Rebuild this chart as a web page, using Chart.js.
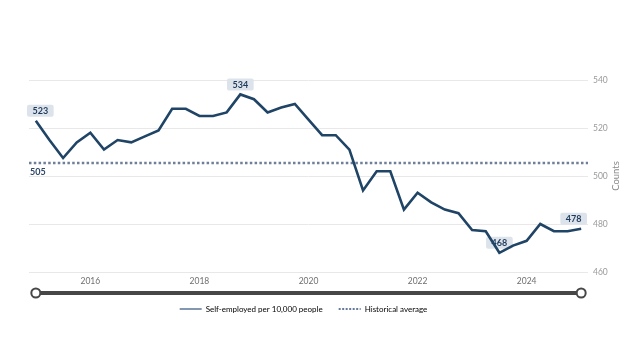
<!DOCTYPE html>
<html>
<head>
<meta charset="utf-8">
<script src="https://cdn.jsdelivr.net/npm/chart.js@4.4.1/dist/chart.umd.min.js"></script>
<style>
  html, body { margin: 0; padding: 0; background: #fff; }
</style>
</head>
<body>
<canvas id="myChart" width="636" height="362"></canvas>
<script>
// quarterly figures, 2015 Q1 to 2025 Q1
const quarters = [
  '2015 Q1', '2015 Q2', '2015 Q3', '2015 Q4',
  '2016 Q1', '2016 Q2', '2016 Q3', '2016 Q4',
  '2017 Q1', '2017 Q2', '2017 Q3', '2017 Q4',
  '2018 Q1', '2018 Q2', '2018 Q3', '2018 Q4',
  '2019 Q1', '2019 Q2', '2019 Q3', '2019 Q4',
  '2020 Q1', '2020 Q2', '2020 Q3', '2020 Q4',
  '2021 Q1', '2021 Q2', '2021 Q3', '2021 Q4',
  '2022 Q1', '2022 Q2', '2022 Q3', '2022 Q4',
  '2023 Q1', '2023 Q2', '2023 Q3', '2023 Q4',
  '2024 Q1', '2024 Q2', '2024 Q3', '2024 Q4',
  '2025 Q1'
]
const selfEmployed = [
  523, 515, 507.5, 514,
  518, 511, 515, 514,
  516.5, 519, 528, 528,
  525, 525, 526.5, 534,
  532, 526.5, 528.5, 530,
  523.5, 517, 517, 511,
  494, 502, 502, 486,
  493, 489, 486, 484.5,
  477.5, 477, 468, 471,
  473, 480, 477, 477,
  478
]
const historicalAverage = 505.4
const yearTicks = ['2016', '2018', '2020', '2022', '2024']
const yMin = 460
const yMax = 540
const yStep = 20

const navy = '#1f4466'
const avgColor = '#6f7f99'

// puntos con etiqueta: primero, ultimo, maximo y minimo
const labelIdx = [
  0,
  selfEmployed.length - 1,
  selfEmployed.indexOf(Math.max(...selfEmployed)),
  selfEmployed.indexOf(Math.min(...selfEmployed))
]

Chart.defaults.font.family = 'Lato'

const extras = {
  id: 'extras',
  afterLayout(chart) {
    // la leyenda va centrada un poco a la izquierda
    chart.legend.right = chart.chartArea.right - 10
  },
  beforeDatasetsDraw(chart) {
    const ctx = chart.ctx
    const area = chart.chartArea
    const y = chart.scales.y.getPixelForValue(historicalAverage)
    ctx.save()
    // linea del promedio historico
    ctx.strokeStyle = avgColor
    ctx.lineWidth = 2.5
    ctx.setLineDash([2.5, 2.3])
    ctx.beginPath()
    ctx.moveTo(area.left, y)
    ctx.lineTo(area.right, y)
    ctx.stroke()
    ctx.setLineDash([])
    ctx.fillStyle = '#2c4566'
    ctx.font = 'bold 9px Lato'
    ctx.textBaseline = 'middle'
    ctx.textAlign = 'left'
    ctx.fillText(String(Math.round(historicalAverage)), area.left + 1, y + 9)

    // etiquetas de valores (debajo de la linea)
    const meta = chart.getDatasetMeta(0)
    ctx.font = 'bold 9px Lato'
    labelIdx.forEach((i) => {
      const pt = meta.data[i]
      const txt = String(Math.round(selfEmployed[i]))
      const w = ctx.measureText(txt).width + 11
      const h = 12
      let cx = pt.x
      cx = Math.max(area.left - 2 + w / 2, Math.min(area.right - 1 - w / 2, cx))
      const bottom = pt.y - 4
      ctx.fillStyle = '#dde3eb'
      ctx.beginPath()
      ctx.roundRect(cx - w / 2, bottom - h, w, h, 2)
      ctx.fill()
      ctx.fillStyle = '#1f3b5c'
      ctx.textAlign = 'center'
      ctx.fillText(txt, cx, bottom - h / 2 + 0.5)
    })
    ctx.restore()
  },
  afterDraw(chart) {
    const ctx = chart.ctx
    const area = chart.chartArea
    const meta = chart.getDatasetMeta(0)
    const x0 = meta.data[0].x
    const x1 = meta.data[meta.data.length - 1].x
    const sy = area.bottom + 21
    ctx.save()
    // barra del navegador
    ctx.strokeStyle = '#474747'
    ctx.lineWidth = 4
    ctx.beginPath()
    ctx.moveTo(x0, sy)
    ctx.lineTo(x1, sy)
    ctx.stroke()
    ctx.lineWidth = 2
    ctx.fillStyle = '#fff'
    ;[x0, x1].forEach((x) => {
      ctx.beginPath()
      ctx.arc(x, sy, 4.5, 0, Math.PI * 2)
      ctx.fill()
      ctx.stroke()
    })
    // titulo del eje Y
    ctx.translate(616, (area.top + area.bottom) / 2)
    ctx.rotate(-Math.PI / 2)
    ctx.fillStyle = '#888'
    ctx.font = '9.5px Lato'
    ctx.textAlign = 'center'
    ctx.textBaseline = 'middle'
    ctx.fillText('Counts', 0, 0)
    ctx.restore()
  }
}

new Chart(document.getElementById('myChart'), {
  type: 'line',
  data: {
    labels: quarters,
    datasets: [{
      label: 'Self-employed per 10,000 people',
      data: selfEmployed,
      borderColor: navy,
      borderWidth: 2.6,
      pointRadius: 0,
      tension: 0
    }, {
      label: 'Historical average',
      data: [],
      borderColor: avgColor,
      borderDash: [2, 1.5]
    }]
  },
  options: {
    responsive: false,
    animation: false,
    devicePixelRatio: 1,
    layout: { padding: { top: 80, left: 29, right: 0, bottom: 39 } },
    scales: {
      x: {
        offset: true,
        grid: { display: false, drawTicks: false },
        border: { display: false },
        ticks: {
          autoSkip: false,
          maxRotation: 0,
          padding: 4,
          color: '#6f6f6f',
          font: { size: 8.5 },
          callback: function (v) {
            const lab = this.getLabelForValue(v)
            const year = lab.slice(0, 4)
            return lab.endsWith('Q1') && yearTicks.includes(year) ? year : null
          }
        },
        afterFit: (s) => { s.height = 17 }
      },
      y: {
        position: 'right',
        min: yMin,
        max: yMax,
        grid: { color: '#e8e8e8', drawTicks: false },
        border: { display: false },
        ticks: {
          stepSize: yStep,
          padding: 5,
          color: '#9a9a9a',
          font: { size: 8.5 }
        },
        afterFit: (s) => { s.width = 48 }
      }
    },
    plugins: {
      tooltip: { enabled: false },
      legend: {
        position: 'bottom',
        labels: {
          usePointStyle: true,
          pointStyleWidth: 22,
          padding: 16,
          color: '#7a7a7a',
          font: { size: 8 },
          generateLabels: () => [{
            text: 'Self-employed per 10,000 people',
            pointStyle: 'line',
            strokeStyle: '#8497b0',
            fillStyle: '#8497b0',
            lineWidth: 2,
            lineDash: [],
            datasetIndex: 0,
            hidden: false
          }, {
            text: 'Historical average',
            pointStyle: 'line',
            strokeStyle: '#34507a',
            fillStyle: '#34507a',
            lineWidth: 1.5,
            lineDash: [2, 1.5],
            datasetIndex: 1,
            hidden: false
          }]
        }
      }
    }
  },
  plugins: [extras]
})
</script>
</body>
</html>
